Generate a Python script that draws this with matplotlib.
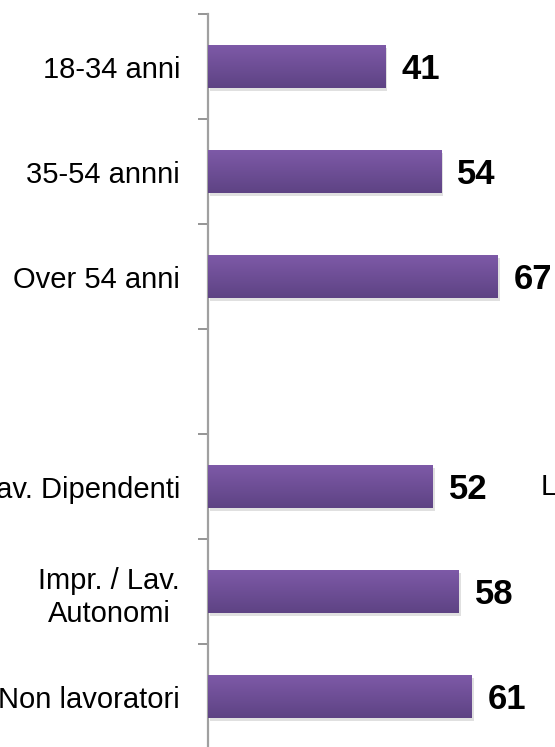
import numpy as np
import matplotlib
matplotlib.use("Agg")
import matplotlib.pyplot as plt
import matplotlib.patheffects as pe
from matplotlib.colors import LinearSegmentedColormap

# Data (empty slot between the two groups)
categories = ["18-34 anni", "35-54 annni", "Over 54 anni", "",
              "Lav. Dipendenti", "Impr. / Lav.\nAutonomi", "Non lavoratori"]
values = [41, 54, 67, np.nan, 52, 58, 61]

# Purple gradient from top to bottom of each bar
bar_cmap = LinearSegmentedColormap.from_list("bar", ["#7E5AA8", "#5E4384"])

fig = plt.figure(figsize=(5.55, 7.47), dpi=100)
ax = fig.add_axes([208 / 555, -2 / 747, 345.6 / 555, 735 / 747])

pos = np.arange(len(categories))
bars = ax.barh(pos, np.nan_to_num(values), height=0.41, color="#6E4F98",
               path_effects=[pe.SimplePatchShadow(offset=(1.5, -2.5), shadow_rgbFace="#9a9a9a", alpha=0.3),
                             pe.Normal()])

# Gradient fill clipped to each bar
grad = np.linspace(0, 1, 64).reshape(-1, 1)
for b, v in zip(bars, values):
    if np.isnan(v):
        continue
    x0, y0, w, h = b.get_x(), b.get_y(), b.get_width(), b.get_height()
    im = ax.imshow(grad, cmap=bar_cmap, aspect="auto", extent=(x0, x0 + w, y0 + h, y0), zorder=3)
    im.set_clip_path(b)
    ax.annotate(f"{v:g}", xy=(x0 + w, y0 + h / 2), xytext=(11.5, -2.5), textcoords="offset points",
                ha="left", va="center", fontsize=25, fontweight="bold",
                family="Liberation Sans", color="black", annotation_clip=False)

ax.set_xlim(0, 80)
ax.set_ylim(len(categories) - 0.5, -0.5)

# Labels at slot centres, tick marks on slot boundaries
ax.set_yticks(pos)
ax.set_yticklabels(categories, fontsize=21, family="Liberation Sans", linespacing=1.25,
                   multialignment="center")
ax.tick_params(axis="y", which="major", length=0, pad=20)
ax.set_yticks(np.arange(len(categories) + 1) - 0.5, minor=True)
ax.tick_params(axis="y", which="minor", length=7, width=1.3, color="#8C8C8C")
ax.set_xticks([])

for s in ["top", "right", "bottom"]:
    ax.spines[s].set_visible(False)
ax.spines["left"].set_color("#A0A0A0")
ax.spines["left"].set_linewidth(1.6)

# Edge of the neighbouring panel, only its first letter shows
fig.text(541 / 555, 1 - 487 / 747, "L", fontsize=21, family="Liberation Sans",
         ha="left", va="center")

fig.savefig("out.png", dpi=100)
